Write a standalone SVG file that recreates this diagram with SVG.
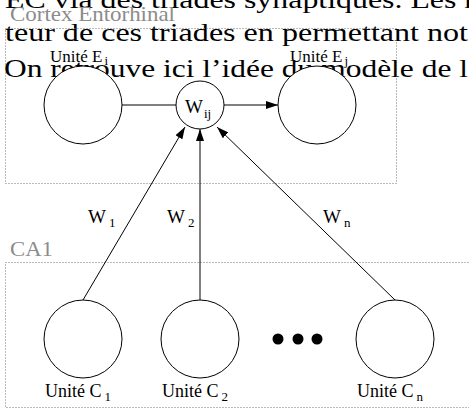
<svg xmlns="http://www.w3.org/2000/svg" width="469" height="419" viewBox="0 0 469 419">
<defs>
<style>
.bg{font-family:"Liberation Serif","Times New Roman",serif;font-size:26px;fill:#000}
.region{fill:none;stroke:#777;stroke-width:1;stroke-dasharray:1 2}
.rlabel{font-family:"Liberation Serif","Times New Roman",serif;font-size:22px;fill:#8c8c8c}
.node{fill:#fff;stroke:#000;stroke-width:1}
.lbl{font-family:"Liberation Serif","Times New Roman",serif;font-size:18px;fill:#000}
.sub{font-size:13px}
.edge{fill:none;stroke:#000;stroke-width:1}
</style>
<marker id="arr" viewBox="0 0 12 8" refX="12" refY="4" markerWidth="12" markerHeight="8" markerUnits="userSpaceOnUse" orient="auto">
<path d="M0,0 L12,4 L0,8 z" fill="#000"/>
</marker>
</defs>
<rect width="469" height="419" fill="#fff"/>
<g id="background-text">
<text class="bg" x="5" y="8" textLength="470" lengthAdjust="spacingAndGlyphs">EC via des triades synaptiques. Les r</text>
<text class="bg" x="5" y="41" textLength="463" lengthAdjust="spacingAndGlyphs">teur de ces triades en permettant not</text>
<text class="bg" x="4" y="77" textLength="464" lengthAdjust="spacingAndGlyphs">On retrouve ici l’idée du modèle de l</text>
</g>
<g id="region-cortex">
<rect class="region" x="5.5" y="28.5" width="391" height="155"/>
<text class="rlabel" x="10" y="21" textLength="165" lengthAdjust="spacingAndGlyphs">Cortex Entorhinal</text>
</g>
<g id="region-ca1">
<rect class="region" x="5.5" y="262.5" width="470" height="145"/>
<text class="rlabel" x="10" y="256" textLength="43" lengthAdjust="spacingAndGlyphs">CA1</text>
</g>
<g id="connectors">
<line class="edge" x1="122" y1="105" x2="176" y2="105"/>
<line class="edge" x1="224" y1="105" x2="278" y2="105" marker-end="url(#arr)"/>
<line class="edge" x1="83" y1="300" x2="185" y2="127" marker-end="url(#arr)"/>
<line class="edge" x1="200" y1="300" x2="200" y2="129" marker-end="url(#arr)"/>
<line class="edge" x1="395" y1="300" x2="217" y2="127" marker-end="url(#arr)"/>
<text class="lbl" x="88" y="223" style="font-size:19px">W<tspan class="sub" dx="3" dy="4">1</tspan></text>
<text class="lbl" x="167" y="223" style="font-size:19px">W<tspan class="sub" dx="3" dy="4">2</tspan></text>
<text class="lbl" x="323" y="223" style="font-size:19px">W<tspan class="sub" dx="3" dy="4">n</tspan></text>
</g>
<g id="node-ei">
<circle class="node" cx="83" cy="105" r="39"/>
<text class="lbl" x="50" y="62" style="font-size:17px">Unité E<tspan class="sub" dx="2" dy="3">i</tspan></text>
</g>
<g id="node-wij">
<circle class="node" cx="200" cy="105" r="24"/>
<text class="lbl" x="185" y="113" style="font-size:19px">W<tspan class="sub" dx="1" dy="5">ij</tspan></text>
</g>
<g id="node-ej">
<circle class="node" cx="317" cy="105" r="39"/>
<text class="lbl" x="290" y="62" style="font-size:17px">Unité E<tspan class="sub" dx="2" dy="3">j</tspan></text>
</g>
<g id="node-c1">
<circle class="node" cx="83" cy="339" r="39"/>
<text class="lbl" x="45" y="397">Unité C<tspan class="sub" dx="3" dy="4">1</tspan></text>
</g>
<g id="node-c2">
<circle class="node" cx="200" cy="339" r="39"/>
<text class="lbl" x="162" y="397">Unité C<tspan class="sub" dx="3" dy="4">2</tspan></text>
</g>
<g id="ellipsis">
<circle cx="278" cy="339" r="5.5" fill="#000"/>
<circle cx="298" cy="339" r="5.5" fill="#000"/>
<circle cx="317" cy="339" r="5.5" fill="#000"/>
</g>
<g id="node-cn">
<circle class="node" cx="395" cy="339" r="39"/>
<text class="lbl" x="357" y="397">Unité C<tspan class="sub" dx="3" dy="4">n</tspan></text>
</g>
</svg>
